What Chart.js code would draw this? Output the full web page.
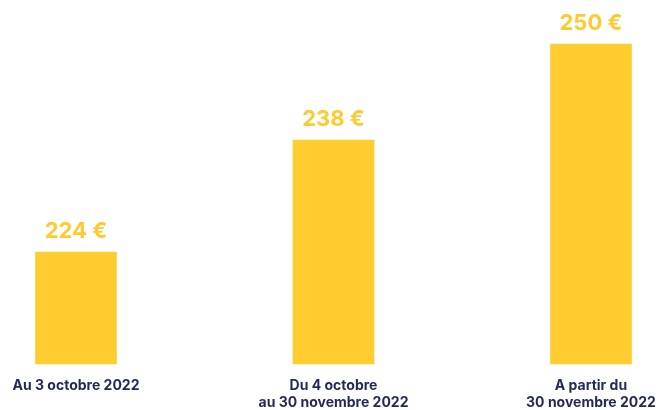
<!DOCTYPE html>
<html>
<head>
<meta charset="utf-8">
<script src="https://cdn.jsdelivr.net/npm/chart.js@4/dist/chart.umd.min.js"></script>
<style>
  html, body { margin: 0; padding: 0; background: #ffffff; }
  #c { display: block; }
</style>
</head>
<body>
<canvas id="c" width="659" height="410"></canvas>
<script>
const categories = [
  ["Au 3 octobre 2022"],
  ["Du 4 octobre", "au 30 novembre 2022"],
  ["A partir du", "30 novembre 2022"]
];
const prices = [224, 238, 250];
const valueSuffix = " €";
const axisMin = 210;
const axisMax = 250;

const BAR_COLOR = "#FFCD2F";
const VALUE_COLOR = "#FFCA30";
const LABEL_COLOR = "#1F2A57";

const valueLabels = {
  id: "valueLabels",
  afterDatasetsDraw(chart) {
    const ctx = chart.ctx;
    const meta = chart.getDatasetMeta(0);
    ctx.save();
    ctx.font = "700 22px Inter";
    ctx.fillStyle = VALUE_COLOR;
    ctx.textAlign = "center";
    ctx.textBaseline = "alphabetic";
    meta.data.forEach((bar, i) => {
      ctx.fillText(prices[i] + valueSuffix, bar.x, bar.y - 14);
    });
    ctx.restore();
  }
};

new Chart(document.getElementById("c"), {
  type: "bar",
  data: {
    labels: categories,
    datasets: [{
      data: prices,
      base: axisMin,
      backgroundColor: BAR_COLOR,
      borderWidth: 0,
      barThickness: 81,
      clip: false
    }]
  },
  options: {
    responsive: false,
    animation: false,
    events: [],
    layout: { padding: { left: 76, right: 68, top: 44, bottom: 0 } },
    plugins: {
      legend: { display: false },
      tooltip: { enabled: false }
    },
    scales: {
      x: {
        offset: false,
        grid: { display: false, drawTicks: false },
        border: { display: false },
        ticks: {
          color: LABEL_COLOR,
          font: { family: "Inter", size: 14, weight: "700", lineHeight: 1.17 },
          padding: 14,
          maxRotation: 0,
          autoSkip: false
        },
        afterFit(scale) {
          scale.height = 46;
          scale.paddingLeft = 0;
          scale.paddingRight = 0;
        }
      },
      y: {
        display: false,
        min: axisMin,
        max: axisMax,
        beginAtZero: false
      }
    }
  },
  plugins: [valueLabels]
});
</script>
</body>
</html>
